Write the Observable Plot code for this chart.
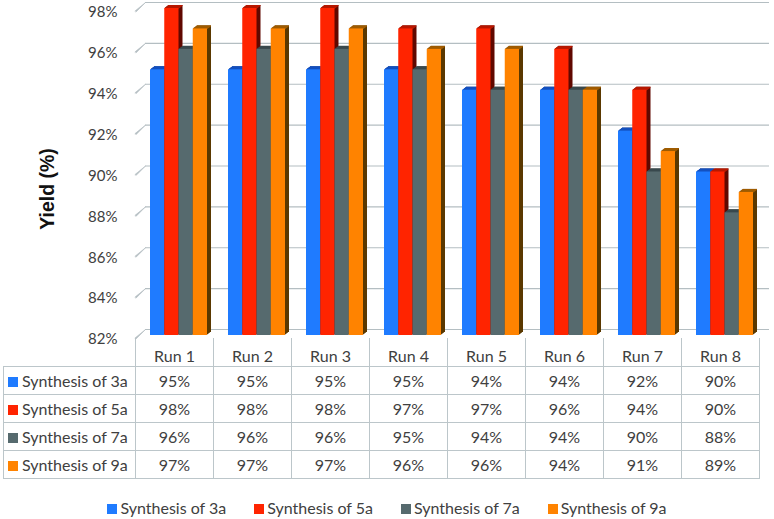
<!DOCTYPE html>
<html>
<head>
<meta charset="utf-8">
<script src="https://cdn.jsdelivr.net/npm/d3@7"></script>
<script src="https://cdn.jsdelivr.net/npm/@observablehq/plot@0.6"></script>
<style>
  html, body { margin: 0; padding: 0; background: #fff; }
  #wrap { position: relative; width: 774px; height: 519px; font-family: Lato, "Open Sans", sans-serif; color: #404040; }
  #chart svg { display: block; }
  table { border-collapse: collapse; table-layout: fixed; margin-left: 3px; font-size: 16px; color: #404040; }
  td { border: 1px solid #bcc6ca; text-align: center; padding: 0; height: 27px; white-space: nowrap; }
  tr.head td { border-top: none; height: 27px; vertical-align: bottom; padding-bottom: 1px; }
  tr.head td.blank { border-left: none; border-top: none; }
  td.name { text-align: left; padding-left: 4px; }
  .key { display: inline-block; width: 10px; height: 10px; margin-right: 4px; vertical-align: 0px; }
  .legend { display: flex; justify-content: center; gap: 28px; margin-top: 20px; font-size: 16px; line-height: 18px; }
  .legend .key { margin-right: 3px; }
</style>
</head>
<body>
<div id="wrap">
  <div id="chart"></div>
  <table id="tbl"></table>
  <div class="legend" id="legend"></div>
</div>
<script>
// ---- data ----
const runs = ["Run 1", "Run 2", "Run 3", "Run 4", "Run 5", "Run 6", "Run 7", "Run 8"];
const seriesNames = ["Synthesis of 3a", "Synthesis of 5a", "Synthesis of 7a", "Synthesis of 9a"];
const yield3a = [95, 95, 95, 95, 94, 94, 92, 90];
const yield5a = [98, 98, 98, 97, 97, 96, 94, 90];
const yield7a = [96, 96, 96, 95, 94, 94, 90, 88];
const yield9a = [97, 97, 97, 96, 96, 94, 91, 89];
const yTicks = [82, 84, 86, 88, 90, 92, 94, 96, 98];
const yLabel = "Yield (%)";

// ---- styles ----
const frontColors = ["#1f7bff", "#ff2400", "#566a6e", "#ff8300"];
const topColors   = ["#1450c0", "#b81800", "#3a4a4e", "#a05c00"];
const sideColors  = ["#0c2c6c", "#600800", "#2a3436", "#5a3800"];
const gridColor = "#b4bec2";

const allSeries = [yield3a, yield5a, yield7a, yield9a];
const tables = allSeries.map(vals => runs.map((run, j) => ({run, value: vals[j]})));

const W = 774, H = 338, ML = 135, MR = 15, MT = 8, MB = 3;
const band = (W - ML - MR) / runs.length;   // 78
const barW = 14.25, lead = 15, depth = 4;

const marks = [];
marks.push(Plot.gridY(yTicks, {dx: 10, dy: -6, stroke: gridColor, strokeOpacity: 1, strokeWidth: 1.2}));
marks.push(Plot.vector(yTicks, {y: d => d, frameAnchor: "left", length: 13.5, rotate: 48, anchor: "start",
  shape: "spike", r: 0.7, fill: gridColor, stroke: gridColor, strokeWidth: 0.6, dy: 3}));
marks.push(Plot.axisY(yTicks, {tickSize: 0, tickPadding: 18, dy: 4, tickFormat: d => d + "%",
  fontSize: 15, fill: "#404040", label: null}));
marks.push(Plot.text([yLabel], {frameAnchor: "left", textAnchor: "middle", dx: -88, dy: 17, rotate: -90,
  fontSize: 19.5, fontWeight: "bold", fontFamily: "Liberation Sans, Arial, sans-serif", fill: "#111"}));

// extrusion sides
tables.forEach((t, i) => {
  const insetLeft = lead + i * barW, insetRight = band - lead - (i + 1) * barW;
  for (let k = depth; k >= 1; k--) {
    marks.push(Plot.barY(t, {x: "run", y1: 82, y2: "value", fill: sideColors[i], dx: k, dy: -k * 0.75,
      insetLeft, insetRight}));
  }
});
// top faces
tables.forEach((t, i) => {
  const insetLeft = lead + i * barW, insetRight = band - lead - (i + 1) * barW;
  for (let k = 0.5; k <= depth; k += 0.5) {
    marks.push(Plot.tickY(t, {x: "run", y: "value", stroke: topColors[i], strokeWidth: 1,
      dx: k, dy: -k * 0.75, insetLeft, insetRight}));
  }
});
// front faces
tables.forEach((t, i) => {
  const insetLeft = lead + i * barW, insetRight = band - lead - (i + 1) * barW;
  marks.push(Plot.barY(t, {x: "run", y1: 82, y2: "value", fill: frontColors[i], insetLeft, insetRight}));
});

const chart = Plot.plot({
  width: W, height: H,
  marginLeft: ML, marginRight: MR, marginTop: MT, marginBottom: MB,
  x: {type: "band", domain: runs, padding: 0, axis: null},
  y: {domain: [82, 98], axis: null},
  style: {fontFamily: "Lato, 'Open Sans', sans-serif", fontSize: "15px", color: "#404040", background: "white", overflow: "visible"},
  marks
});
document.getElementById("chart").appendChild(chart);

// ---- data table ----
const tbl = document.getElementById("tbl");
const cg = document.createElement("colgroup");
[132, ...runs.map(() => band)].forEach(w => {
  const c = document.createElement("col"); c.style.width = w + "px"; cg.appendChild(c);
});
tbl.appendChild(cg);
const head = document.createElement("tr"); head.className = "head";
const blank = document.createElement("td"); blank.className = "blank"; head.appendChild(blank);
runs.forEach(r => { const td = document.createElement("td"); td.textContent = r; head.appendChild(td); });
tbl.appendChild(head);
allSeries.forEach((vals, i) => {
  const tr = document.createElement("tr");
  const nm = document.createElement("td"); nm.className = "name";
  nm.innerHTML = `<span class="key" style="background:${frontColors[i]}"></span>`;
  nm.appendChild(document.createTextNode(seriesNames[i]));
  tr.appendChild(nm);
  vals.forEach(v => { const td = document.createElement("td"); td.textContent = v + "%"; tr.appendChild(td); });
  tbl.appendChild(tr);
});

// ---- legend ----
const leg = document.getElementById("legend");
seriesNames.forEach((s, i) => {
  const it = document.createElement("div");
  it.innerHTML = `<span class="key" style="background:${frontColors[i]}"></span>${s}`;
  leg.appendChild(it);
});
</script>
</body>
</html>
